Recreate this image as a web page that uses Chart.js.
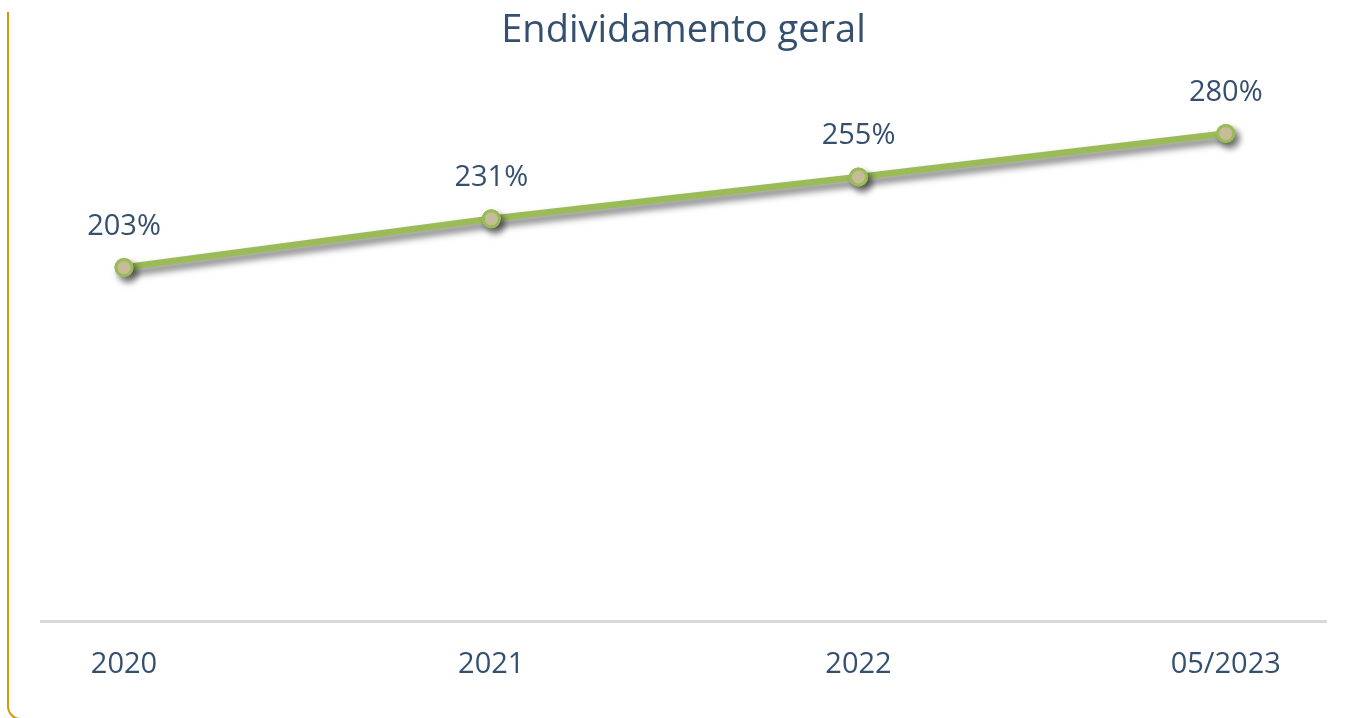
<!DOCTYPE html>
<html>
<head>
<meta charset="utf-8">
<script src="https://cdn.jsdelivr.net/npm/chart.js@4/dist/chart.umd.min.js"></script>
<style>
  html, body { margin: 0; padding: 0; background: #ffffff; overflow: hidden; }
  #wrap { position: relative; width: 1357px; height: 718px; overflow: hidden; }
  #frame { position: absolute; left: 7px; top: 12px; width: 2000px; height: 706px;
           border-left: 2px solid #CC9C0C; border-bottom: 2px solid #CC9C0C;
           border-bottom-left-radius: 14px; pointer-events: none; }
  canvas { position: absolute; left: 0; top: 0; }
</style>
</head>
<body>
<div id="wrap">
  <div id="frame"></div>
  <canvas id="c" width="1357" height="718"></canvas>
</div>
<script>
const chartTitle = "Endividamento geral";
const categories = ["2020", "2021", "2022", "05/2023"];
const debtValues = [203, 231, 255, 280];
const labelSuffix = "%";

const textColor = "#35506F";
const fontFamily = "'Open Sans', 'Noto Sans', sans-serif";

const shadowPlugin = {
  id: "lineShadow",
  beforeDatasetDraw(chart, args) {
    const ctx = chart.ctx;
    ctx.save();
    if (args.index === 0) {
      ctx.shadowColor = "rgba(0,0,0,0.55)";
      ctx.shadowBlur = 7;
      ctx.shadowOffsetX = 4;
      ctx.shadowOffsetY = 5;
    }
  },
  afterDatasetDraw(chart) {
    chart.ctx.restore();
  }
};

const labelPlugin = {
  id: "pointLabels",
  afterDraw(chart) {
    const ctx = chart.ctx;
    const meta = chart.getDatasetMeta(0);
    ctx.save();
    ctx.fillStyle = textColor;
    ctx.font = "29px " + fontFamily;
    ctx.textAlign = "center";
    ctx.textBaseline = "middle";
    meta.data.forEach((pt, i) => {
      ctx.fillText(debtValues[i] + labelSuffix, pt.x, pt.y - 41);
    });
    ctx.restore();
  }
};

const points = debtValues.map((v, i) => ({ x: i, y: v }));
const pointStyle = {
  pointRadius: 8,
  pointHoverRadius: 8,
  pointBackgroundColor: "#C4BD97",
  pointBorderColor: "#9BBB59",
  pointBorderWidth: 3
};

new Chart(document.getElementById("c"), {
  type: "line",
  data: {
    datasets: [
      Object.assign({
        data: points,
        borderColor: "#9BBB59",
        borderWidth: 6.5,
        tension: 0,
        fill: false,
        order: 2
      }, pointStyle),
      Object.assign({
        data: points,
        showLine: false,
        borderColor: "#9BBB59",
        order: 1
      }, pointStyle)
    ]
  },
  options: {
    responsive: false,
    animation: false,
    events: [],
    layout: { padding: { left: 41, right: 31, top: 0, bottom: 10 } },
    plugins: {
      legend: { display: false },
      tooltip: { enabled: false },
      title: {
        display: true,
        text: chartTitle,
        color: textColor,
        font: { family: fontFamily, size: 38, weight: "normal", lineHeight: 1.2 },
        padding: { top: 8, bottom: 45 }
      }
    },
    scales: {
      x: {
        type: "linear",
        min: -0.226,
        max: 3.273,
        afterBuildTicks(axis) {
          axis.ticks = categories.map((_, i) => ({ value: i }));
        },
        grid: { display: false, drawTicks: false },
        border: { display: true, color: "#D9D9D9", width: 3 },
        ticks: {
          autoSkip: false,
          maxRotation: 0,
          padding: 26,
          color: textColor,
          font: { family: fontFamily, size: 29, lineHeight: 1.2 },
          callback: (v) => categories[v]
        }
      },
      y: {
        display: false,
        min: 0,
        max: 300
      }
    }
  },
  plugins: [shadowPlugin, labelPlugin]
});
</script>
</body>
</html>
